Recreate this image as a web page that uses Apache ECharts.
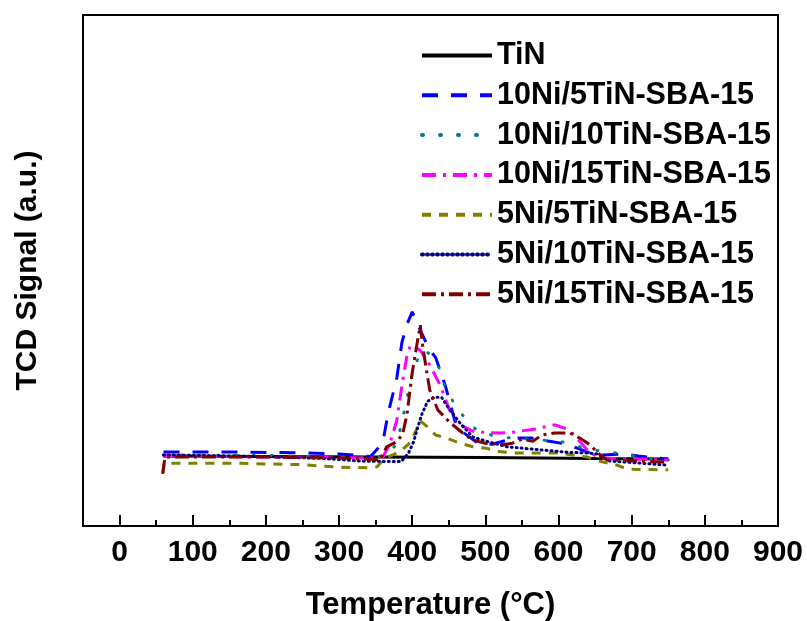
<!DOCTYPE html>
<html>
<head>
<meta charset="utf-8">
<script src="https://cdn.jsdelivr.net/npm/echarts@6/dist/echarts.min.js"></script>
<style>
html,body{margin:0;padding:0;background:#fff;}
#chart{width:807px;height:621px;}
</style>
</head>
<body>
<div id="chart"></div>
<script>
// axis ticks
var majorTicks = [0,100,200,300,400,500,600,700,800,900];
var minorTicks = [50,150,250,350,450,550,650,750,850];

var names = ['TiN','10Ni/5TiN-SBA-15','10Ni/10TiN-SBA-15','10Ni/15TiN-SBA-15','5Ni/5TiN-SBA-15','5Ni/10TiN-SBA-15','5Ni/15TiN-SBA-15'];

// [temperature, signal]
var tin = [[60,13.7],[200,13.6],[350,13.5],[500,13.4],[650,13.2],[750,13.1]];
var ni10ti5 = [[60,14.5],[150,14.5],[250,14.3],[300,14.1],[343,13.6],[352,15],[360,16.5],[367,22],[379,29],[386,36],[393,39.5],[400,41.9],[412,38],[424,34.4],[432,33],[445,27.6],[458,20.7],[465,18.8],[490,16.2],[509,16],[540,17.2],[564,17.2],[579,16.8],[612,16],[639,14.5],[659,13.9],[688,14.1],[709,13.7],[750,13.1]];
var ni10ti10 = [[60,13.9],[200,13.8],[300,13.5],[350,13.3],[370,14.5],[379,16.2],[386,20.4],[398,28.6],[407,32.5],[416,34.5],[425,33.5],[437,30.9],[446,26.6],[465,22.3],[490,18.4],[520,17.4],[579,16.8],[609,16.4],[640,15],[670,14.5],[700,13.8],[729,13.1],[750,12.9]];
var ni10ti15 = [[60,13.7],[200,13.5],[340,13.3],[360,13.5],[369,15.9],[379,20.7],[386,27.6],[393,33.5],[398,35.5],[411,34.4],[424,31.5],[438,27.6],[451,22.7],[465,19.8],[485,18.4],[520,18.2],[540,18.4],[568,19],[595,19.8],[615,18.8],[633,15.9],[643,14.3],[657,13.3],[711,13.1],[750,12.9]];
var ni5ti5 = [[59,10.4],[61,12.3],[150,12.3],[250,12],[300,11.5],[340,11.4],[352,11.6],[362,13.2],[375,14],[385,14.8],[395,16],[403,18],[411,20.6],[420,19.5],[432,17.8],[447,17.2],[465,16.2],[483,15.5],[502,15.2],[516,14.6],[540,14.3],[600,14.3],[619,13.9],[639,13.5],[661,12.5],[680,11.9],[695,11.1],[750,11]];
var ni5ti10 = [[60,13.9],[200,13.6],[280,13.2],[330,12.7],[385,12.6],[395,14.3],[402,16.5],[408,19.5],[413,21.8],[421,24.4],[430,25.2],[440,25.2],[450,23],[458,21.5],[465,20.2],[483,17.4],[506,16.4],[530,15.5],[575,14.9],[616,14.4],[639,14.3],[653,14.1],[670,12.7],[693,12.5],[750,11.9]];
var ni5ti15 = [[59,10.2],[62,13.5],[200,13.5],[300,13.3],[350,13],[356,12.9],[365,15.5],[379,16.5],[387,18],[393,22],[400,30],[407,36],[411,39.3],[414,35.5],[420,30],[424,26.6],[435,22.7],[452,20.2],[469,18.2],[483,16.8],[500,16.2],[524,15.9],[537,16.2],[550,17],[565,16.6],[577,17.8],[595,18.2],[616,18.2],[629,17.2],[643,15.9],[654,14.3],[666,12.9],[684,12.9],[721,12.6],[750,12.5]];

var font = '"Liberation Sans", Arial, sans-serif';

function makeLine(name, data, color, dash, cap)
{
	return {
		name: name,
		type: 'line',
		data: data,
		symbol: 'none',
		showSymbol: false,
		smooth: false,
		lineStyle: {color: color, width: 3, type: dash, cap: cap || 'butt'},
		itemStyle: {color: color}
	};
}

var myChart = echarts.init(document.getElementById('chart'));
var option = {
	backgroundColor: '#fff',
	animation: false,
	// fixed plot box, do not let labels push it around
	grid: {left: 83, right: 29, top: 15, bottom: 95, show: true, borderColor: '#000', borderWidth: 2, containLabel: false, outerBoundsMode: 'none'},
	legend: {
		orient: 'vertical', left: 420, top: 40, padding: 0,
		itemWidth: 70, itemHeight: 14, itemGap: 8.8,
		// hide the circle that echarts puts on line icons
		itemStyle: {color: 'rgba(0,0,0,0)', borderWidth: 0, opacity: 0},
		lineStyle: {width: 4},
		textStyle: {fontSize: 30.5, fontWeight: 'bold', color: '#000', fontFamily: font, lineHeight: 30},
		data: names
	},
	xAxis: [{
		type: 'value', min: -50, max: 900,
		name: 'Temperature (\u00B0C)', nameLocation: 'middle', nameGap: 64,
		nameTextStyle: {fontSize: 31, fontWeight: 'bold', color: '#000', fontFamily: font},
		axisLine: {onZero: false, lineStyle: {color: '#000', width: 2}},
		axisTick: {inside: true, length: 11, lineStyle: {color: '#000', width: 2}, customValues: majorTicks},
		axisLabel: {fontSize: 30, fontWeight: 'bold', color: '#000', fontFamily: font, margin: 12, customValues: majorTicks},
		splitLine: {show: false}
	}, {
		// minor ticks only
		type: 'value', min: -50, max: 900, position: 'bottom',
		axisLine: {show: false, onZero: false},
		axisTick: {inside: true, length: 6, lineStyle: {color: '#000', width: 2}, customValues: minorTicks},
		axisLabel: {show: false},
		splitLine: {show: false}
	}],
	yAxis: {
		type: 'value', min: 0, max: 100,
		name: 'TCD Signal (a.u.)', nameLocation: 'middle', nameGap: 40,
		nameTextStyle: {fontSize: 30, fontWeight: 'bold', color: '#000', fontFamily: font},
		axisLine: {show: true, onZero: false, lineStyle: {color: '#000', width: 2}},
		axisTick: {show: false},
		axisLabel: {show: false},
		splitLine: {show: false}
	},
	series: [
		makeLine(names[0], tin, '#000000', 'solid'),
		makeLine(names[1], ni10ti5, '#0000ff', [16, 13]),
		makeLine(names[2], ni10ti10, '#008080', [1, 17], 'round'),
		makeLine(names[3], ni10ti15, '#ff00ff', [14, 7, 3, 7]),
		makeLine(names[4], ni5ti5, '#808000', [9, 8]),
		makeLine(names[5], ni5ti10, '#000080', [1, 4], 'round'),
		makeLine(names[6], ni5ti15, '#800000', [14, 5, 3, 5])
	]
};
myChart.setOption(option);
</script>
</body>
</html>
